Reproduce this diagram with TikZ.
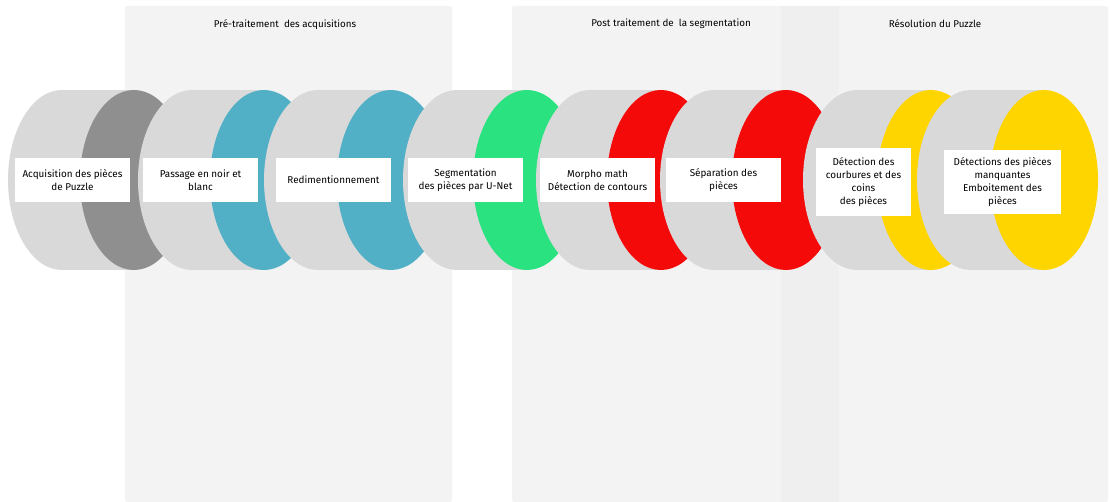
\documentclass[tikz,border=0pt]{standalone}
\usepackage{fontspec}
\setmainfont{Fira Sans}
\usepackage{tikz}
\usepackage{xcolor}
\usetikzlibrary{positioning}

\definecolor{panel}{HTML}{F3F3F3}
\definecolor{panel-dark}{HTML}{EFEFEF}
\definecolor{body}{HTML}{D9D9D9}
\definecolor{disc-grey}{HTML}{8F8F8F}
\definecolor{disc-teal}{HTML}{52B0C6}
\definecolor{disc-green}{HTML}{2AE27F}
\definecolor{disc-red}{HTML}{F50A0A}
\definecolor{disc-yellow}{HTML}{FFD500}

\begin{document}
\begin{tikzpicture}
[
x=1pt, y=-1pt,
panel-a/.style={fill=panel, rounded corners=2pt},
body-a/.style={fill=body},
box-a/.style={fill=white, align=center, inner sep=0pt, minimum width=115pt, minimum height=44pt, font=\fontsize{9.9}{13}\selectfont},
text-a/.style={black, font=\fontsize{9.8}{11}\selectfont}
]
\useasboundingbox (0,0) rectangle (1110,502);
% panels
\fill[panel-a] (125,6) rectangle (452,502);
\fill[panel-a] (512,6) rectangle (839,502);
\fill[panel-a] (781,6) rectangle (1108,502);
\fill[panel-dark] (781,6) rectangle (839,502);
\node (title-1) [text-a] at (285,25) {Pré-traitement\ \ des acquisitions};
\node (title-2) [text-a] at (671,24) {Post traitement de\ \ la segmentation};
\node (title-3) [text-a] at (935,24) {Résolution du Puzzle};
% cylinders
\fill[body-a] (62,180) ellipse [x radius=54, y radius=90];
\fill[body-a] (62,90) rectangle (134,270);
\fill[disc-grey] (134,180) ellipse [x radius=54, y radius=90];
\fill[body-a] (192,180) ellipse [x radius=54, y radius=90];
\fill[body-a] (192,90) rectangle (264,270);
\fill[disc-teal] (264,180) ellipse [x radius=54, y radius=90];
\fill[body-a] (318,180) ellipse [x radius=54, y radius=90];
\fill[body-a] (318,90) rectangle (391,270);
\fill[disc-teal] (391,180) ellipse [x radius=54, y radius=90];
\fill[body-a] (457,180) ellipse [x radius=54, y radius=90];
\fill[body-a] (457,90) rectangle (527,270);
\fill[disc-green] (527,180) ellipse [x radius=54, y radius=90];
\fill[body-a] (590,180) ellipse [x radius=54, y radius=90];
\fill[body-a] (590,90) rectangle (661,270);
\fill[disc-red] (661,180) ellipse [x radius=54, y radius=90];
\fill[body-a] (714,180) ellipse [x radius=54, y radius=90];
\fill[body-a] (714,90) rectangle (786,270);
\fill[disc-red] (786,180) ellipse [x radius=54, y radius=90];
\fill[body-a] (857,180) ellipse [x radius=54, y radius=90];
\fill[body-a] (857,90) rectangle (931,270);
\fill[disc-yellow] (931,180) ellipse [x radius=54, y radius=90];
\fill[body-a] (971,180) ellipse [x radius=54, y radius=90];
\fill[body-a] (971,90) rectangle (1044,270);
\fill[disc-yellow] (1044,180) ellipse [x radius=54, y radius=90];
% labels
\node (stage-1) [box-a] at (72.5,180)  {Acquisition des pièces\\de Puzzle};
\node (stage-2) [box-a] at (200.5,180) {Passage en noir et\\blanc};
\node (stage-3) [box-a] at (333.5,180) {Redimentionnement};
\node (stage-4) [box-a] at (465.5,180) {Segmentation\\des pièces par U-Net};
\node (stage-5) [box-a] at (597.5,180) {Morpho math\\Détection de contours};
\node (stage-6) [box-a] at (723.5,180) {Séparation des\\pièces};
\node (stage-7) [box-a, minimum width=95pt, minimum height=68pt] at (863.5,182) {Détection des\\courbures et des\\coins\\ des pièces};
\node (stage-8) [box-a, minimum width=117pt, minimum height=64pt] at (1002.5,182) {Détections des pièces\\manquantes\\Emboitement des\\pièces};
\end{tikzpicture}
\end{document}
